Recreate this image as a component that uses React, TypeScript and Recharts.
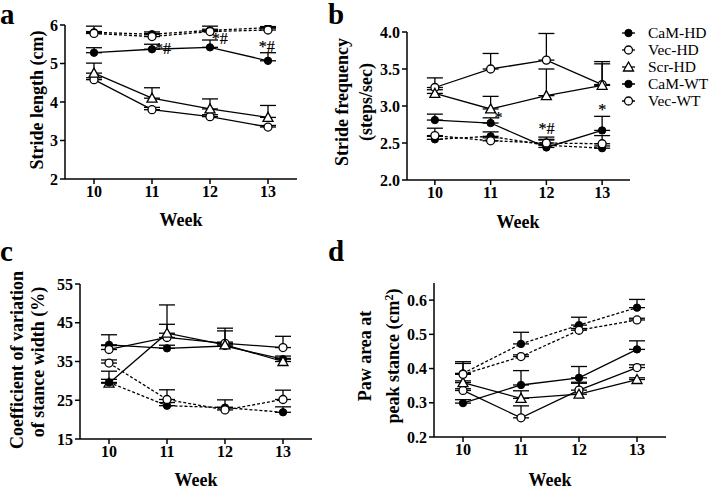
import React from "react"
import { LineChart, Line, XAxis, YAxis, ErrorBar, ReferenceDot } from "recharts"

const FONT = '"Liberation Serif", "Times New Roman", serif'

const weeks = [10, 11, 12, 13]
const seriesNames = ["CaM-HD", "Vec-HD", "Scr-HD", "CaM-WT", "Vec-WT"]

// a: stride length (cm)
const strideLenCamHd = [5.28, 5.37, 5.42, 5.07]
const strideLenVecHd = [4.58, 3.8, 3.62, 3.35]
const strideLenScrHd = [4.75, 4.1, 3.82, 3.6]
const strideLenCamWt = [5.81, 5.76, 5.86, 5.93]
const strideLenVecWt = [5.78, 5.7, 5.83, 5.87]
const strideLenCamHdErr = [0.13, 0.13, 0.19, 0.21]
const strideLenVecHdErr = [0.05, 0.06, 0.05, 0.04]
const strideLenScrHdErr = [0.26, 0.27, 0.26, 0.31]
const strideLenCamWtErr = [0.16, 0.06, 0.11, 0.03]
const strideLenVecWtErr = [0.05, 0.08, 0.06, 0.05]

// b: stride frequency (steps/sec)
const strideFreqCamHd = [2.81, 2.77, 2.44, 2.67]
const strideFreqVecHd = [3.25, 3.5, 3.62, 3.29]
const strideFreqScrHd = [3.17, 2.96, 3.14, 3.28]
const strideFreqCamWt = [2.55, 2.59, 2.47, 2.43]
const strideFreqVecWt = [2.6, 2.53, 2.5, 2.49]
const strideFreqCamHdErr = [0.08, 0.07, 0.1, 0.19]
const strideFreqVecHdErr = [0.13, 0.21, 0.36, 0.31]
const strideFreqScrHdErr = [0.05, 0.17, 0.36, 0.29]
const strideFreqCamWtErr = [0.04, 0.06, 0.08, 0.03]
const strideFreqVecWtErr = [0.1, 0.04, 0.08, 0.11]

// c: coefficient of variation of stance width (%)
const stanceCvCamHd = [39.3, 38.4, 39.0, 35.6]
const stanceCvVecHd = [38.1, 41.2, 39.7, 38.6]
const stanceCvScrHd = [29.4, 42.3, 39.3, 35.0]
const stanceCvCamWt = [29.6, 23.6, 23.1, 21.9]
const stanceCvVecWt = [34.6, 25.2, 22.5, 25.2]
const stanceCvCamHdErr = [2.6, 0.8, 1.0, 0.8]
const stanceCvVecHdErr = [1.0, 3.4, 3.9, 2.9]
const stanceCvScrHdErr = [3.1, 7.3, 3.6, 0.8]
const stanceCvCamWtErr = [0.8, 0.8, 2.0, 1.4]
const stanceCvVecWtErr = [0.8, 2.5, 0.7, 2.4]

// d: paw area at peak stance (cm2)
const pawAreaCamHd = [0.299, 0.352, 0.373, 0.456]
const pawAreaVecHd = [0.336, 0.256, 0.337, 0.403]
const pawAreaScrHd = [0.359, 0.313, 0.325, 0.368]
const pawAreaCamWt = [0.386, 0.472, 0.527, 0.578]
const pawAreaVecWt = [0.383, 0.435, 0.512, 0.542]
const pawAreaCamHdErr = [0.01, 0.042, 0.033, 0.025]
const pawAreaVecHdErr = [0.005, 0.035, 0.02, 0.008]
const pawAreaScrHdErr = [0.005, 0.022, 0.035, 0.005]
const pawAreaCamWtErr = [0.034, 0.034, 0.023, 0.024]
const pawAreaVecWtErr = [0.032, 0.005, 0.005, 0.005]

// significance marks (placed in data coordinates)
const strideLenNotes = [
  { week: 11.19, value: 5.4, text: "*#" },
  { week: 12.17, value: 5.64, text: "*#" },
  { week: 12.98, value: 5.43, text: "*#" },
]
const strideFreqNotes = [
  { week: 11.14, value: 2.85, text: "*" },
  { week: 12.0, value: 2.7, text: "*#" },
  { week: 13.0, value: 2.95, text: "*" },
]

const seriesKeys = ["camHd", "vecHd", "scrHd", "camWt", "vecWt"]
const seriesStyle: Record<string, { dashed: boolean; marker: "filled" | "open" | "triangle" }> = {
  camHd: { dashed: false, marker: "filled" },
  vecHd: { dashed: false, marker: "open" },
  scrHd: { dashed: false, marker: "triangle" },
  camWt: { dashed: true, marker: "filled" },
  vecWt: { dashed: true, marker: "open" },
}

function makeRows(means: number[][], errs: number[][]) {
  return weeks.map((week, i) => {
    const row: Record<string, any> = { week }
    seriesKeys.forEach((k, j) => {
      row[k] = means[j][i]
      row[k + "Err"] = [0, errs[j][i]]
    })
    return row
  })
}

const strideLenData = makeRows(
  [strideLenCamHd, strideLenVecHd, strideLenScrHd, strideLenCamWt, strideLenVecWt],
  [strideLenCamHdErr, strideLenVecHdErr, strideLenScrHdErr, strideLenCamWtErr, strideLenVecWtErr]
)
const strideFreqData = makeRows(
  [strideFreqCamHd, strideFreqVecHd, strideFreqScrHd, strideFreqCamWt, strideFreqVecWt],
  [strideFreqCamHdErr, strideFreqVecHdErr, strideFreqScrHdErr, strideFreqCamWtErr, strideFreqVecWtErr]
)
const stanceCvData = makeRows(
  [stanceCvCamHd, stanceCvVecHd, stanceCvScrHd, stanceCvCamWt, stanceCvVecWt],
  [stanceCvCamHdErr, stanceCvVecHdErr, stanceCvScrHdErr, stanceCvCamWtErr, stanceCvVecWtErr]
)
const pawAreaData = makeRows(
  [pawAreaCamHd, pawAreaVecHd, pawAreaScrHd, pawAreaCamWt, pawAreaVecWt],
  [pawAreaCamHdErr, pawAreaVecHdErr, pawAreaScrHdErr, pawAreaCamWtErr, pawAreaVecWtErr]
)

function Marker({ cx, cy, kind }: { cx?: number; cy?: number; kind: string }) {
  if (cx == null || cy == null) return null
  if (kind === "filled") return <circle cx={cx} cy={cy} r={3.7} fill="#000" stroke="#000" strokeWidth={1} />
  if (kind === "open") return <circle cx={cx} cy={cy} r={4} fill="#fff" stroke="#000" strokeWidth={1.3} />
  return (
    <polygon
      points={`${cx},${cy - 5} ${cx - 5},${cy + 4} ${cx + 5},${cy + 4}`}
      fill="#fff"
      stroke="#000"
      strokeWidth={1.3}
    />
  )
}

const tickStyle = { fill: "#000", fontSize: 16, fontWeight: "bold", fontFamily: FONT }
const axisStroke = { stroke: "#000", strokeWidth: 1.5 }

interface PanelProps {
  left: number
  top: number
  plot: [number, number, number, number] // x0, x1, y0, y1 in page px
  data: Record<string, any>[]
  yDomain: [number, number]
  yTicks: number[]
  yFmt?: (v: number) => string
  notes?: { week: number; value: number; text: string }[]
}

function Panel({ left, top, plot, data, yDomain, yTicks, yFmt, notes = [] }: PanelProps) {
  const w = 360
  const h = 245
  const yW = 40
  const xH = 30
  const margin = {
    left: plot[0] - left - yW,
    right: left + w - plot[1],
    top: plot[2] - top,
    bottom: top + h - plot[3] - xH,
  }
  return (
    <div style={{ position: "absolute", left, top }}>
      <LineChart width={w} height={h} data={data} margin={margin}>
        <XAxis
          type="number"
          dataKey="week"
          domain={[9.5, 13.5]}
          ticks={weeks}
          height={xH}
          tick={tickStyle}
          tickSize={5}
          axisLine={axisStroke}
          tickLine={axisStroke}
          allowDataOverflow
        />
        <YAxis
          domain={yDomain}
          ticks={yTicks}
          width={yW}
          tick={tickStyle}
          tickSize={5}
          tickFormatter={yFmt}
          axisLine={axisStroke}
          tickLine={axisStroke}
          allowDataOverflow
        />
        {seriesKeys.map((k) => (
          <Line
            key={k}
            dataKey={k}
            stroke="#000"
            strokeWidth={1.3}
            strokeDasharray={seriesStyle[k].dashed ? "3 2" : undefined}
            dot={(p: any) => <Marker key={`${k}-${p.index}`} cx={p.cx} cy={p.cy} kind={seriesStyle[k].marker} />}
            activeDot={false}
            isAnimationActive={false}
          >
            <ErrorBar dataKey={k + "Err"} direction="y" width={8} stroke="#000" strokeWidth={1.3} isAnimationActive={false} />
          </Line>
        ))}
        {notes.map((n, i) => (
          <ReferenceDot
            key={i}
            x={n.week}
            y={n.value}
            r={1}
            shape={(p: any) => (
              <text
                x={p.cx}
                y={p.cy}
                textAnchor="middle"
                dominantBaseline="central"
                fill="#000"
                stroke="#000"
                strokeWidth={0.2}
                style={{ fontFamily: "Liberation Serif", fontSize: 16 }}
              >
                {n.text}
              </text>
            )}
          />
        ))}
      </LineChart>
    </div>
  )
}

function VText({ text, x, y, size = 18 }: { text: React.ReactNode; x: number; y: number; size?: number }) {
  return (
    <div
      style={{
        position: "absolute",
        left: x,
        top: y,
        transform: "translate(-50%, -50%) rotate(-90deg)",
        whiteSpace: "nowrap",
        fontSize: size,
        lineHeight: `${size}px`,
        fontWeight: "bold",
      }}
    >
      {text}
    </div>
  )
}

function HText({ text, x, y, size = 18 }: { text: string; x: number; y: number; size?: number }) {
  return (
    <div
      style={{
        position: "absolute",
        left: x,
        top: y,
        transform: "translate(-50%, -50%)",
        whiteSpace: "nowrap",
        fontSize: size,
        lineHeight: `${size}px`,
        fontWeight: "bold",
      }}
    >
      {text}
    </div>
  )
}

function PanelLetter({ text, x, y }: { text: string; x: number; y: number }) {
  return (
    <div style={{ position: "absolute", left: x, top: y, fontSize: 29, lineHeight: "16px", fontWeight: "bold" }}>
      {text}
    </div>
  )
}

function LegendBox({ left, top }: { left: number; top: number }) {
  return (
    <div style={{ position: "absolute", left, top, fontSize: 15.5 }}>
      {seriesKeys.map((k, i) => (
        <div key={k} style={{ display: "flex", alignItems: "center", height: 16.8, lineHeight: "16px" }}>
          <svg width={28} height={12}>
            <line
              x1={2}
              x2={15}
              y1={6}
              y2={6}
              stroke="#000"
              strokeWidth={1.3}
              strokeDasharray={seriesStyle[k].dashed ? "3 2" : undefined}
            />
            <Marker cx={8.5} cy={6} kind={seriesStyle[k].marker} />
          </svg>
          <span>{seriesNames[i]}</span>
        </div>
      ))}
    </div>
  )
}

export default function App() {
  return (
    <div
      style={{
        position: "absolute",
        left: 0,
        top: 0,
        width: 720,
        height: 490,
        background: "#fff",
        fontFamily: FONT,
        color: "#000",
        overflow: "hidden",
      }}
    >
      <Panel left={0} top={0} plot={[65, 297, 25, 179]} data={strideLenData} yDomain={[2, 6]} yTicks={[2, 3, 4, 5, 6]} notes={strideLenNotes} />
      <Panel
        left={360}
        top={0}
        plot={[407, 630, 32, 180]}
        data={strideFreqData}
        yDomain={[2, 4]}
        yTicks={[2, 2.5, 3, 3.5, 4]}
        yFmt={(v) => v.toFixed(1)}
        notes={strideFreqNotes}
      />
      <Panel left={0} top={245} plot={[80, 312, 284, 439]} data={stanceCvData} yDomain={[15, 55]} yTicks={[15, 25, 35, 45, 55]} />
      <Panel
        left={360}
        top={245}
        plot={[434, 666, 283, 437]}
        data={pawAreaData}
        yDomain={[0.2, 0.65]}
        yTicks={[0.2, 0.3, 0.4, 0.5, 0.6]}
        yFmt={(v) => v.toFixed(1)}
      />

      <LegendBox left={620} top={25} />

      <PanelLetter text="a" x={0} y={6} />
      <PanelLetter text="b" x={328} y={6} />
      <PanelLetter text="c" x={0} y={243} />
      <PanelLetter text="d" x={328} y={243} />

      <VText text="Stride length (cm)" x={37} y={100} />
      <VText text="Stride frequency" x={342} y={102} />
      <VText text="(steps/sec)" x={366} y={102} />
      <VText text="Coefficient of variation" x={17} y={360} />
      <VText text="of stance width (%)" x={38} y={362} />
      <VText text="Paw area at" x={365} y={356} />
      <VText
        text={
          <span>
            peak stance (cm<sup style={{ fontSize: 12, verticalAlign: "6px" }}>2</sup>)
          </span>
        }
        x={391}
        y={356}
      />

      <HText text="Week" x={181} y={220} />
      <HText text="Week" x={518} y={222} />
      <HText text="Week" x={196} y={480} />
      <HText text="Week" x={550} y={480} />
    </div>
  )
}
